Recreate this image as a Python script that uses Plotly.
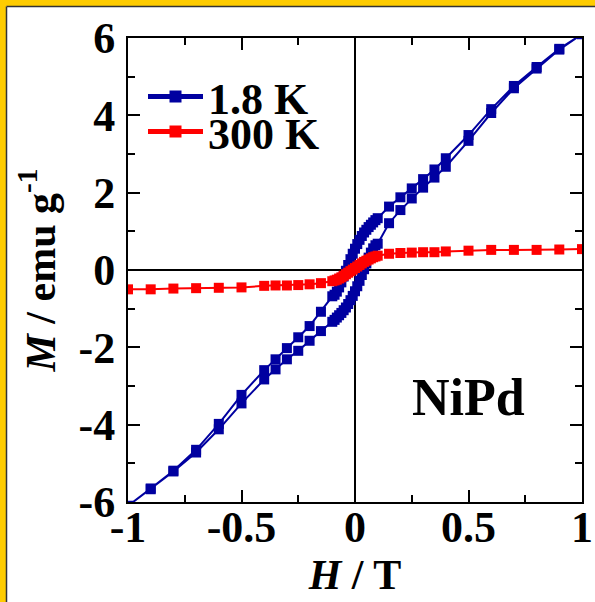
import plotly.graph_objects as go

# ---------------- data ----------------
# 1.8 K : descending branch (upper) from +1 T to -1 T
h_down = [1.0, 0.9, 0.8, 0.7, 0.6, 0.5, 0.4, 0.35, 0.3, 0.25, 0.2, 0.15,
          0.10, 0.09, 0.08, 0.07, 0.06, 0.05, 0.04, 0.03, 0.02, 0.01, 0.0,
          -0.01, -0.02, -0.03, -0.04, -0.05, -0.06, -0.07, -0.08, -0.09, -0.10,
          -0.15, -0.2, -0.25, -0.3, -0.35, -0.4, -0.5, -0.6, -0.7, -0.8, -0.9, -1.0]
m_down = [6.1, 5.72, 5.25, 4.76, 4.16, 3.49, 2.89, 2.60, 2.35, 2.11, 1.88, 1.64,
          1.34, 1.29, 1.23, 1.17, 1.11, 1.04, 0.97, 0.88, 0.78, 0.67, 0.55,
          0.42, 0.28, 0.13, -0.02, -0.17, -0.32, -0.45, -0.56, -0.64, -0.68,
          -1.08, -1.45, -1.74, -2.02, -2.31, -2.59, -3.23, -3.98, -4.65, -5.19, -5.65, -6.1]
# 1.8 K : ascending branch (lower) from -1 T to +1 T
h_up = [-1.0, -0.9, -0.8, -0.7, -0.6, -0.5, -0.4, -0.35, -0.3, -0.25, -0.2, -0.15,
        -0.10, -0.09, -0.08, -0.07, -0.06, -0.05, -0.04, -0.03, -0.02, -0.01, 0.0,
        0.01, 0.02, 0.03, 0.04, 0.05, 0.06, 0.07, 0.08, 0.09, 0.10,
        0.15, 0.2, 0.25, 0.3, 0.35, 0.4, 0.5, 0.6, 0.7, 0.8, 0.9, 1.0]
m_up = [-6.1, -5.67, -5.21, -4.72, -4.12, -3.45, -2.83, -2.57, -2.31, -2.09, -1.83, -1.58,
        -1.34, -1.29, -1.23, -1.17, -1.11, -1.04, -0.97, -0.88, -0.78, -0.67, -0.55,
        -0.42, -0.28, -0.13, 0.02, 0.17, 0.32, 0.45, 0.56, 0.64, 0.68,
        1.21, 1.55, 1.85, 2.13, 2.39, 2.67, 3.34, 4.06, 4.70, 5.21, 5.70, 6.1]

# 300 K
h_300 = [-1.0, -0.9, -0.8, -0.7, -0.6, -0.5, -0.4, -0.35, -0.3, -0.25, -0.2, -0.15,
         -0.10, -0.09, -0.08, -0.07, -0.06, -0.05, -0.04, -0.03, -0.02, -0.01, 0.0,
         0.01, 0.02, 0.03, 0.04, 0.05, 0.06, 0.07, 0.08, 0.09, 0.10,
         0.15, 0.2, 0.25, 0.3, 0.35, 0.4, 0.5, 0.6, 0.7, 0.8, 0.9, 1.0]
m_300 = [-0.50, -0.50, -0.48, -0.47, -0.46, -0.45, -0.41, -0.40, -0.40, -0.39, -0.37, -0.34,
         -0.29, -0.27, -0.25, -0.22, -0.19, -0.15, -0.11, -0.07, -0.03, 0.01, 0.05,
         0.09, 0.13, 0.17, 0.21, 0.24, 0.27, 0.30, 0.33, 0.35, 0.37,
         0.42, 0.44, 0.45, 0.46, 0.46, 0.48, 0.50, 0.52, 0.52, 0.52, 0.53, 0.54]

x_tickvals = [-1, -0.5, 0, 0.5, 1]
x_ticktext = ["-1", "-0.5", "0", "0.5", "1"]
y_tickvals = [-6, -4, -2, 0, 2, 4, 6]
y_ticktext = ["-6", "-4", "-2", "0", "2", "4", "6"]

BLUE = "#0000a0"
RED = "#ff0000"
FONT = "Liberation Serif"

fig = go.Figure()
fig.add_trace(go.Scatter(
    x=h_down + h_up, y=m_down + m_up, mode="lines+markers", name="1.8 K",
    line=dict(color=BLUE, width=2), legend="legend",
    marker=dict(symbol="square", size=10, color=BLUE)))
fig.add_trace(go.Scatter(
    x=h_300, y=m_300, mode="lines+markers", name="300 K",
    line=dict(color=RED, width=2), legend="legend2",
    marker=dict(symbol="square", size=10, color=RED)))

axis_common = dict(
    showline=True, linecolor="black", linewidth=2, mirror="allticks",
    ticks="inside", ticklen=12, tickwidth=2, tickcolor="black",
    showgrid=False, zeroline=True, zerolinecolor="black", zerolinewidth=2,
    automargin=False,
    tickfont=dict(family=FONT, size=44, color="black", weight="bold"),
)

fig.update_xaxes(
    range=[-1, 1], tickvals=x_tickvals, ticktext=x_ticktext, ticklabelstandoff=-15,
    minor=dict(dtick=0.25, tick0=0, ticks="inside", ticklen=7, tickwidth=2, tickcolor="black", showgrid=False),
    title=dict(text="<i>H</i> / T", font=dict(family=FONT, size=42, color="black", weight="bold"), standoff=0),
    **axis_common)
fig.update_yaxes(
    range=[-6, 6], tickvals=y_tickvals, ticktext=y_ticktext, ticklabelstandoff=2,
    minor=dict(dtick=1, tick0=0, ticks="inside", ticklen=7, tickwidth=2, tickcolor="black", showgrid=False),
    title=dict(text="<i>M</i> / emu g<sup>-1</sup>", font=dict(family=FONT, size=42, color="black", weight="bold"), standoff=10),
    **axis_common)

# frame decorations (yellow border on left and top)
L, R, T, B = 128, 13, 38, 100
W, H = 595 - L - R, 602 - T - B
def px(x):
    return (x - L) / W
def py(y):
    return (602 - B - y) / H
shapes = [
    dict(type="rect", xref="paper", yref="paper", x0=px(0), x1=px(6), y0=py(602), y1=py(0),
         fillcolor="#ffcc00", line=dict(width=0), layer="below"),
    dict(type="rect", xref="paper", yref="paper", x0=px(0), x1=px(595), y0=py(6), y1=py(0),
         fillcolor="#ffcc00", line=dict(width=0), layer="below"),
    dict(type="line", xref="paper", yref="paper", x0=px(6.5), x1=px(6.5), y0=py(602), y1=py(6.5),
         line=dict(color="#333333", width=1.5)),
    dict(type="line", xref="paper", yref="paper", x0=px(6.5), x1=px(595), y0=py(6.5), y1=py(6.5),
         line=dict(color="#333333", width=1.5)),
]

legend_common = dict(xanchor="left", yanchor="middle", bgcolor="rgba(0,0,0,0)",
                     itemsizing="constant", itemwidth=55,
                     font=dict(family=FONT, size=44, color="black", weight="bold"))

fig.update_layout(
    width=595, height=602,
    margin=dict(l=L, r=R, t=T, b=B),
    paper_bgcolor="white", plot_bgcolor="white",
    font=dict(family=FONT, size=40, color="black", weight="bold"),
    showlegend=True,
    legend=dict(x=px(143), y=py(97), **legend_common),
    legend2=dict(x=px(143), y=py(132), **legend_common),
    shapes=shapes,
    annotations=[dict(text="NiPd", x=0.5, y=-3.3, xref="x", yref="y", showarrow=False,
                      font=dict(family=FONT, size=52, color="black", weight="bold"))],
)

fig.write_html("out.html", config={"displayModeBar": False},
               post_script="document.body.style.margin='0';document.body.style.overflow='hidden';")
